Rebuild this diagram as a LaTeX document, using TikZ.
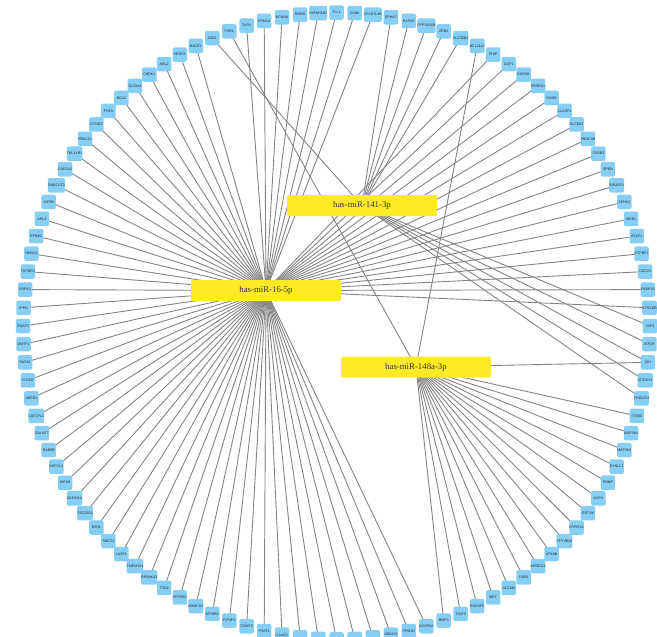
\documentclass[tikz,border=0pt]{standalone}
\usepackage{fontspec}
\setmainfont{Liberation Serif}
\newfontfamily\lblfont{Liberation Sans}
\pgfdeclarelayer{bg}
\pgfsetlayers{bg,main}
\definecolor{nodeblue}{RGB}{135,206,245}
\definecolor{hubyellow}{RGB}{255,234,40}
\definecolor{edgegray}{RGB}{132,132,132}
\tikzset{
 gene/.style={fill=nodeblue, rounded corners=2pt, minimum width=14.5pt, minimum height=14.5pt, inner sep=0pt, font=\lblfont\fontsize{3.6}{4}\selectfont, text=black!85},
 hub/.style={fill=hubyellow, rounded corners=1.5pt, minimum width=150pt, minimum height=21pt, inner sep=0pt, font=\fontsize{8.8}{10}\selectfont, text=black!80},
 link/.style={draw=edgegray, line width=0.9pt}
}
\begin{document}
\begin{tikzpicture}
\useasboundingbox (0pt,0pt) rectangle (657pt,-637pt);
\node[hub] (ha) at (266pt,-290.5pt) {has-miR-16-5p};
\node[hub] (hb) at (362pt,-205.5pt) {has-miR-141-3p};
\node[hub] (hc) at (416pt,-367pt) {has-miR-148a-3p};
\foreach \lab [count=\i from 0] in {
TLL1, CASK, ATXN7L3B, EPHA7, RAP2C, PPP1R15B, ZEB2, SLC35D1, BCL2L11, PHIP,
COP1, CADM1, SPRED1, KDSR, CLASP1, SLC8A3, FNDC3B, CPEB3, SPEN, SMURF1,
ZFHX4, WEE1, BTAF1, GTPBP1, CDC23, FKBP1A, STRADB, YAP1, IGF1R, QKI,
ATXN7L1, PRELID3, ITGB8, MAP3K4, MAP3K3, DYNLL2, PRNP, USP4, DSTYK, DYRK1A,
ZFYVE26, ARL8B, ARRDC3, OSR1, ALCAM, MET, RASSF5, TGIF2, BMP3, ACVR2A,
PPM1D, UBE2V1, {}, {}, {}, {}, {}, C1orf21, PSAT1, COMT2,
PIP4P1, MTMR3, ARMCX2, PPP6R3, TXN2, RPS6KA3, TMEM154, LUZP1, TMCC1, EZH1,
TSC22D2, ZC3H11A, KIF1B, AHCYL2, RAB5B, GALNT7, CDC37L1, UBFD1, CLDN2, TAOK1,
DMTF1, ZMAT3, IPPK, SRPK1, TGFBR3, HMGA2, EFNB2, ARL3, KIF3B, ONECUT2,
CAPZA2, TBL1XR1, FBXL20, CCND2, FNTA, BCL2, SLC8A4, CHEK1, ARL2, VEGFA,
BACE1, ZEB1, FXR1, TLR4, PPM1A, KCNH4, RBMS, PAFAH1B1}{
  \pgfmathsetmacro\ang{90-\i*3.3333333}
  \pgfmathsetmacro\px{336.5+313.5*cos(\ang)}
  \pgfmathsetmacro\py{-326+313.5*sin(\ang)}
  \node[gene] (n\i) at (\px pt,\py pt) {\lab};
}
\begin{pgfonlayer}{bg}
\foreach \h [count=\i from 0] in {
a,a,a,b,b,b,b,b,c,a,
a,a,a,a,a,a,a,a,a,a,
a,a,a,a,a,a,a,b,b,c,
b,b,c,c,c,c,c,c,c,c,
c,c,c,c,c,c,c,c,c,a,
a,a,a,a,a,a,a,a,a,a,
a,a,a,a,a,a,a,a,a,a,
a,a,a,a,a,a,a,a,a,a,
a,a,a,a,a,a,a,a,a,a,
a,a,a,a,a,a,a,a,a,a,
a,b,c,a,a,a,a,a}{
  \draw[link] (h\h.center) -- (n\i.center);
}
\draw[link] (hb.center) -- (n29.center);
\end{pgfonlayer}
\end{tikzpicture}
\end{document}
